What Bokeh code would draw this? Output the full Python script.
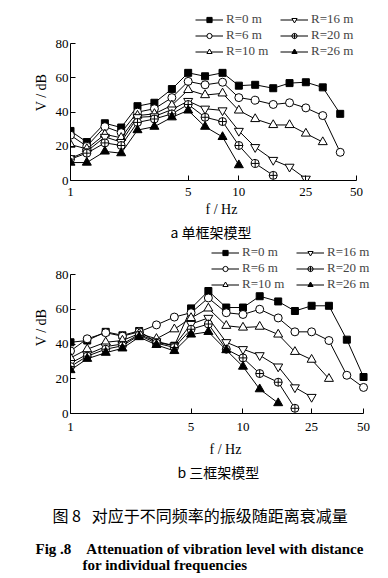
from bokeh.plotting import figure
from bokeh.layouts import column
from bokeh.models import FixedTicker, Legend, LegendItem, Title, Range1d
from bokeh.embed import file_html
from bokeh.resources import INLINE

# ---------------- data ----------------
freqs = [1, 1.25, 1.6, 2, 2.5, 3.15, 4, 5, 6.3, 8, 10, 12.5, 16, 20, 25, 31.5, 40, 50]

labels = ["R=0 m", "R=6 m", "R=10 m", "R=16 m", "R=20 m", "R=26 m"]

# (a) single-frame model
a_r0 = [29, 22.5, 33.5, 31, 43.5, 45.5, 53.5, 63, 61, 63, 55.5, 56, 54, 57, 57.5, 54.5, 39]
a_r6 = [26.5, 20, 31.5, 28, 40, 42, 48.5, 58, 56, 57.5, 48.5, 47, 44.5, 45.5, 42.5, 38, 16.5]
a_r10 = [21, 18.5, 27, 25, 38, 39, 44, 53, 50, 51, 41, 36, 32.5, 32.5, 27.5, 22.5]
a_r16 = [13, 17, 25.5, 22.5, 37, 37.5, 41.5, 46.5, 42, 41, 29, 19.5, 12, 8, 1]
a_r20 = [12.5, 16, 22, 20.5, 34, 36, 39, 44.5, 37, 34.5, 20.5, 10, 3]
a_r26 = [10.5, 10.5, 17, 16, 29.5, 31.5, 37, 41, 31.5, 25.5, 9]

# (b) three-frame model
b_r0 = [41, 42, 47, 45, 47.5, 41, 39, 60.5, 70.5, 61, 61, 67.5, 64.5, 59, 62, 62, 42.5, 21]
b_r6 = [36, 43, 46.5, 44.5, 47, 51, 55.5, 58, 66.5, 58, 57, 60, 55, 47, 47, 42, 22, 15]
b_r10 = [32, 37, 41, 42, 46, 43, 48.5, 55, 60.5, 50.5, 49.5, 50, 45.5, 35.5, 31, 20]
b_r16 = [29, 34, 38.5, 40, 45.5, 41.5, 39, 51.5, 55, 41, 37, 33.5, 27, 15, 9.5]
b_r20 = [27, 33, 37, 39, 45, 40.5, 38, 48.5, 51.5, 37, 32, 23, 18, 3]
b_r26 = [25, 31.5, 35, 37.5, 44, 39.5, 36, 45.5, 47, 36.5, 27, 14, 6]

x_ticks = [1, 5, 10, 25, 50]
x_tick_labels = ["1", "5", "10", "25", "50"]
y_ticks = [0, 20, 40, 60, 80]

markers = ["square", "circle", "triangle", "inverted_triangle", "circle_cross", "triangle"]
fills = ["black", "white", "white", "white", "white", "black"]
sizes = [7, 8, 9, 9, 8, 9]

SERIF = "Liberation Serif"
CJK = "Noto Sans CJK SC"


def make_fig(series, fw, fh, x_end, y_end, bl, bt, br, bb, leg_loc, caption, cap_off,
             tick_stand, lab_stand):
    p = figure(x_axis_type="log", x_range=Range1d(1, x_end), y_range=Range1d(0, y_end),
               frame_width=fw, frame_height=fh,
               min_border_left=bl, min_border_top=bt, min_border_right=br, min_border_bottom=bb,
               toolbar_location=None, output_backend="svg")
    p.grid.visible = False
    p.outline_line_color = None
    p.background_fill_color = "white"
    p.border_fill_color = "white"

    for ax in (p.xaxis[0], p.yaxis[0]):
        ax.axis_line_color = "black"
        ax.axis_line_width = 1
        ax.major_tick_in = 5
        ax.major_tick_out = 0
        ax.minor_tick_in = 0
        ax.minor_tick_out = 0
        ax.major_tick_line_color = "black"
        ax.major_label_text_font = SERIF
        ax.major_label_text_font_size = "13px"
        ax.major_label_text_color = "black"
        ax.axis_label_text_font = SERIF
        ax.axis_label_text_font_size = "14px"
        ax.axis_label_text_font_style = "normal"
        ax.axis_label_text_color = "black"

    p.xaxis.ticker = FixedTicker(ticks=x_ticks, minor_ticks=[])
    p.xaxis.bounds = (1, 50)
    p.xaxis.major_label_overrides = {t: s for t, s in zip(x_ticks, x_tick_labels)}
    p.xaxis.major_label_standoff = tick_stand
    p.xaxis.axis_label = "f / Hz"
    p.xaxis.axis_label_standoff = lab_stand
    p.yaxis.ticker = FixedTicker(ticks=y_ticks, minor_ticks=[])
    p.yaxis.bounds = (0, 80)
    p.yaxis.major_label_standoff = 2
    p.yaxis.axis_label = "V / dB"
    p.yaxis.axis_label_standoff = 4

    items = []
    for vals, lab, m, fc, sz in zip(series, labels, markers, fills, sizes):
        xs = freqs[:len(vals)]
        l = p.line(xs, vals, line_color="black", line_width=1)
        s = p.scatter(xs, vals, marker=m, size=sz, fill_color=fc, line_color="black", line_width=1)
        items.append(LegendItem(label=lab, renderers=[l, s]))

    leg = Legend(items=items, location=leg_loc, orientation="vertical", nrows=3,
                 background_fill_alpha=0, border_line_color=None,
                 label_text_font=SERIF, label_text_font_size="13px", label_text_line_height=1.0,
                 label_height=13, glyph_height=13, glyph_width=28, label_width=54,
                 label_standoff=3, spacing=0, padding=0, margin=0)
    p.add_layout(leg, "center")

    p.add_layout(Title(text=caption, align="left", offset=cap_off, text_font=CJK,
                       text_font_size="14px", text_font_style="normal", text_color="black",
                       standoff=0), "below")
    return p


pa = make_fig([a_r0, a_r6, a_r10, a_r16, a_r20, a_r26], 302, 176, 62.2, 103, 70, 4, 14, 0,
              (125, 121), "a \u5355\u6846\u67b6\u6a21\u578b", 100, 7, 3)
pb = make_fig([b_r0, b_r6, b_r10, b_r16, b_r20, b_r26], 310, 172, 62.7, 99, 70, 0, 6, 0,
              (141, 121), "b \u4e09\u6846\u67b6\u6a21\u578b", 107, 9, 8)

pb.add_layout(Title(text="\u56fe 8\u00a0\u00a0\u00a0\u5bf9\u5e94\u4e8e\u4e0d\u540c\u9891\u7387\u7684\u632f\u7ea7\u968f\u8ddd\u79bb\u8870\u51cf\u91cf",
                    align="left", offset=-18, text_font=CJK, text_font_size="16px",
                    text_font_style="normal", text_color="black", standoff=38), "below")
pb.add_layout(Title(text="Fig .8\u00a0\u00a0\u00a0\u00a0Attenuation of vibration level with distance",
                    align="left", offset=-35, text_font=SERIF, text_font_size="15px",
                    text_font_style="bold", text_color="black", standoff=-13), "below")
pb.add_layout(Title(text="for individual frequencies",
                    align="left", offset=12, text_font=SERIF, text_font_size="15px",
                    text_font_style="bold", text_color="black", standoff=9), "below")

layout = column(pa, pb, spacing=0)
open("out.html", "w").write(file_html(layout, INLINE))
